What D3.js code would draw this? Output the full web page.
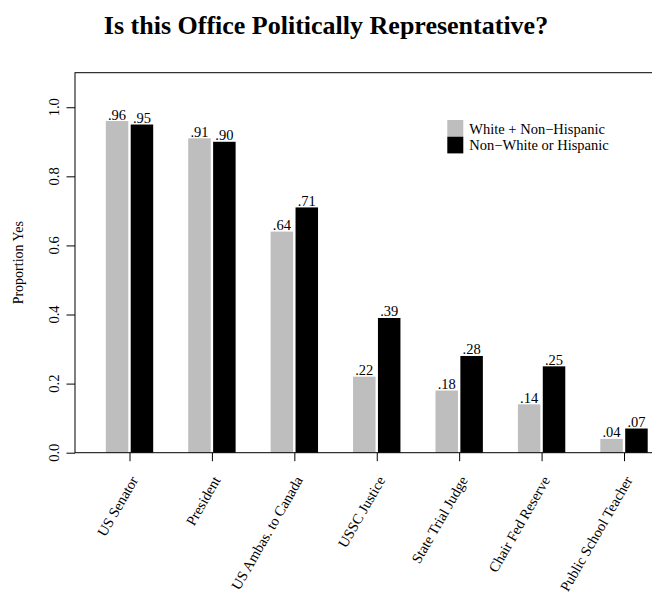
<!DOCTYPE html>
<html>
<head>
<meta charset="utf-8">
<script src="https://cdn.jsdelivr.net/npm/d3@7"></script>
<style>
    body { margin: 0; background: white; }
    svg { display: block; }
    text { font-family: "Liberation Serif", "Times New Roman", serif; fill: black; }
    .title { font-size: 26px; font-weight: bold; }
</style>
</head>
<body>
<script>

    // data
    var offices = ["US Senator", "President", "US Ambas. to Canada", "USSC Justice",
                   "State Trial Judge", "Chair Fed Reserve", "Public School Teacher"];
    var white = [0.96, 0.91, 0.64, 0.22, 0.18, 0.14, 0.04];
    var nonWhite = [0.95, 0.90, 0.71, 0.39, 0.28, 0.25, 0.07];
    var groups = ["White + Non\u2212Hispanic", "Non\u2212White or Hispanic"];
    var yTicks = [0, 0.2, 0.4, 0.6, 0.8, 1.0];

    var width = 652, height = 600;
    var plotLeft = 75, plotTop = 72.7, plotBottom = 452.7, plotRight = 662;

    var svg = d3.select("body").append("svg")
        .attr("width", width)
        .attr("height", height);

    var x = d3.scalePoint().domain(offices).range([129.5, 624]);
    var y = d3.scaleLinear().domain([0, 1.1]).range([plotBottom, plotTop]);

    var barW = 22.5, gap = 1.2;
    var colors = ["#bebebe", "black"];

    // title
    svg.append("text")
        .attr("class", "title")
        .attr("x", 326).attr("y", 34)
        .attr("text-anchor", "middle")
        .text("Is this Office Politically Representative?");

    // bars
    var series = [white, nonWhite];
    series.forEach(function(vals, s) {
        var g = svg.append("g");
        g.selectAll("rect")
          .data(vals)
          .enter().append("rect")
          .attr("x", (d, i) => s == 0 ? x(offices[i]) - gap - barW : x(offices[i]) + gap)
          .attr("y", d => y(d))
          .attr("width", barW)
          .attr("height", d => plotBottom - y(d))
          .attr("fill", colors[s]);
        g.selectAll("text")
          .data(vals)
          .enter().append("text")
          .attr("x", (d, i) => (s == 0 ? x(offices[i]) - gap - barW : x(offices[i]) + gap) + barW / 2)
          .attr("y", d => y(d) - 1.5)
          .attr("text-anchor", "middle")
          .style("font-size", "14.5px")
          .text(d => d3.format(".2f")(d).replace(/^0/, ""));
    });

    // box round the plot region
    svg.append("rect")
        .attr("x", plotLeft).attr("y", plotTop)
        .attr("width", plotRight - plotLeft).attr("height", plotBottom - plotTop)
        .attr("fill", "none").attr("stroke", "black").attr("stroke-width", 1);

    // y axis
    var yAxis = svg.append("g")
        .attr("transform", `translate(${plotLeft},0)`)
        .call(d3.axisLeft(y).tickValues(yTicks).tickSize(8.5).tickFormat(""));
    yAxis.select(".domain").remove();
    yAxis.selectAll("line").attr("stroke", "black");

    svg.selectAll(".ylab")
        .data(yTicks)
        .enter().append("text")
        .attr("class", "ylab")
        .attr("transform", d => `translate(58.5,${y(d)}) rotate(-90)`)
        .attr("text-anchor", "middle")
        .style("font-size", "14.5px")
        .text(d3.format(".1f"));

    svg.append("text")
        .attr("transform", `translate(23,${(plotTop + plotBottom) / 2}) rotate(-90)`)
        .attr("text-anchor", "middle")
        .style("font-size", "14px")
        .text("Proportion Yes");

    // x axis ticks and rotated labels
    var xAxis = svg.append("g")
        .attr("transform", `translate(0,${plotBottom})`)
        .call(d3.axisBottom(x).tickSize(8.5).tickFormat(""));
    xAxis.select(".domain").remove();
    xAxis.selectAll("line").attr("stroke", "black");

    svg.selectAll(".xlab")
        .data(offices)
        .enter().append("text")
        .attr("class", "xlab")
        .attr("transform", d => `translate(${x(d) + 9},480) rotate(-60)`)
        .attr("text-anchor", "end")
        .style("font-size", "14.5px")
        .text(d => d);

    // legend
    var legend = svg.append("g").attr("transform", "translate(447.3,120)");
    groups.forEach(function(name, i) {
        legend.append("rect")
            .attr("x", 0).attr("y", i * 16.7)
            .attr("width", 16).attr("height", 16.7)
            .attr("fill", colors[i]);
        legend.append("text")
            .attr("x", 22).attr("y", i * 16.7 + 13.5)
            .style("font-size", "14.5px")
            .text(name);
    });

</script>
</body>
</html>
